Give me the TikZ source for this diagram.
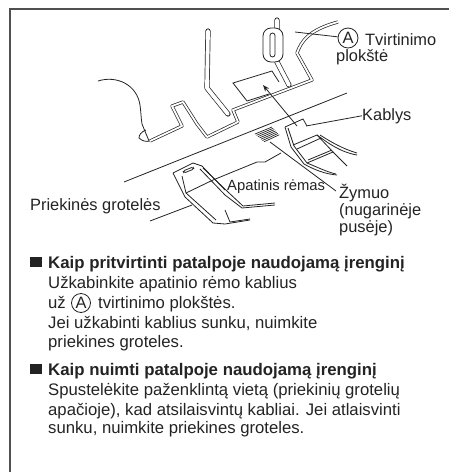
\documentclass[tikz,border=0pt]{standalone}
\usepackage{fontspec}
\setmainfont{Liberation Sans}
\usetikzlibrary{arrows.meta, positioning}
\definecolor{inkgrey}{RGB}{35, 35, 35}
\definecolor{framegrey}{RGB}{80, 80, 80}

\begin{document}
\begin{tikzpicture}[x=1pt, y=-1pt, >=Stealth, color=inkgrey,
    thin line/.style={draw, line width=0.8pt},
    frame rail/.style={draw, line width=0.7pt, double=white, double distance=1.8pt, line join=round},
    rod/.style={draw, line width=0.7pt, double=white, double distance=3.8pt, line join=round},
    label/.style={anchor=base west, inner sep=0pt, font=\fontsize{16.4}{18}\selectfont},
    body/.style={label, font=\fontsize{16.7}{18}\selectfont},
    head/.style={label, font=\fontsize{16.8}{18}\selectfont\bfseries},
    marker/.style={draw=none, fill=inkgrey, minimum width=12pt, minimum height=10pt, inner sep=0pt},
    circ/.style={circle, draw, line width=0.8pt, inner sep=0pt, minimum size=#1, font=\fontsize{16.4}{18}\selectfont}]
  \path[use as bounding box] (0,0) rectangle (449,472);

  % outer frame
  \draw[framegrey, line width=1.2pt] (449,9) -- (10,9) -- (10,472);

  % lower frame, left part
  \draw[thin line] (98,81) .. controls (117,75) and (137,85) .. (140,105)
     .. controls (141,112) and (141,118) .. (142,124) -- (149,141);
  \draw[thin line] (146,130) .. controls (141,132) and (139,135) .. (139,138)
     .. controls (142,141) and (146,142) .. (150,141);
  \path[frame rail] (150,141) -- (182,126) -- (172,106) -- (183,102) -- (197,124)
     -- (207,137) -- (238,122) -- (233,110) -- (312,80) -- (297,53)
     .. controls (301,42) and (308,30) .. (338,22);

  % mounting plate sheet
  \draw[thin line] (279,82) -- (272,71) -- (233,83) -- (247,101) -- (269,94);

  % rods
  \path[rod, line cap=round] (208,31) -- (207,88) -- (228,114);
  \path[rod, line cap=round] (277,20) -- (277,62) -- (289,85);
  \node[draw, fill=white, line width=0.8pt, rounded corners=8pt, minimum width=20pt, minimum height=34pt, inner sep=0pt] (plate) at (273,45) {};
  \node[draw, fill=white, line width=0.8pt, rounded corners=2.5pt, minimum width=5pt, minimum height=24pt, inner sep=0pt] (slot) at (272.5,45) {};

  % long lines
  \draw[thin line] (124,182) -- (347,93);
  \draw[thin line] (150,221) -- (192,205);
  \draw[thin line] (213,180) -- (257,162) -- (265,162) -- (281,153);

  % ridged marking
  \foreach \k in {0,...,6}
    \draw[line width=0.7pt] (255+\k*1.5,134+\k*1.3) -- (272+\k*1.2,127+\k*1.3);

  % right hook
  \draw[thin line, fill=white] (285,127) -- (303,119) -- (307,126);
  \draw[thin line] (285,127) -- (291,147) -- (304,164) .. controls (315,170) and (325,174) .. (337,175);
  \draw[thin line] (288,128) -- (294,146) -- (307,163) .. controls (317,167) and (327,172) .. (336,174);
  \draw[thin line] (293,145) -- (317,135) -- (333,152) -- (307,163);
  \draw[thin line] (297,149) -- (321,138);
  \draw[thin line] (308,160) -- (332,150);
  \draw[thin line] (317,135) .. controls (328,143) and (340,152) .. (357,155);
  \draw[thin line] (320,135) .. controls (331,142) and (343,149) .. (357,153);
  \draw[thin line] (333,152) -- (347,166);

  % left hook
  \draw[thin line] (173,173) -- (193,163) -- (202,166) -- (225,190);
  \draw[thin line] (173,173) -- (185,197) -- (213,223) -- (225,224) -- (250,220);
  \draw[thin line] (182,176) -- (186,193) -- (216,220);
  \draw[thin line] (186,193) -- (213,180);
  \draw[thin line] (200,169) -- (225,195) -- (242,208) -- (275,205);
  \draw[thin line] (203,168) -- (228,192) -- (243,206) -- (275,203);
  \draw[thin line] (225,210) -- (230,222) -- (250,219);
  \draw[thin line, rounded corners=1.5pt] (183,171) -- (193,167) -- (194,169) -- (184,173) -- cycle;

  % labels in the drawing
  \node[circ=20pt] (circA) at (348,38) {A};
  \node[label] (tvirt) at (365,45) {Tvirtinimo};
  \node[label] (plok) at (336,61) {plokštė};
  \node[label] (kab) at (362,120) {Kablys};
  \node[label] (zym) at (339,198) {Žymuo};
  \node[label] (nug) at (339,215) {(nugarinėje};
  \node[label] (pus) at (339,232) {pusėje)};
  \node[label, font=\fontsize{14.8}{16}\selectfont] (apat) at (227,190) {Apatinis rėmas};
  \node[label] (priek) at (30,210) {Priekinės grotelės};

  % leaders
  \coordinate (plateEnd) at (295,32);
  \coordinate (kabEnd) at (306,126);
  \coordinate (zymEnd) at (270,142);
  \coordinate (zymTip) at (336,191);
  \coordinate (arrStart) at (297,126);
  \coordinate (arrEnd) at (263,85);
  \draw[thin line] (plateEnd) -- (circA);
  \draw[thin line] (kabEnd) -- (kab.west);
  \draw[thin line] (zymEnd) -- (zymTip);
  \draw[->, thin line] (arrStart) -- (arrEnd);

  % first paragraph
  \node[marker] (m1) at (36,262) {};
  \node[head] (h1) at (48,268) {Kaip pritvirtinti patalpoje naudojamą įrenginį};
  \node[body] (a1) at (48,288) {Užkabinkite apatinio rėmo kablius};
  \node[body] (a2) at (48,308) {už};
  \node[circ=19pt] (circB) at (81,303) {A};
  \node[body] (a3) at (98,308) {tvirtinimo plokštės.};
  \node[body] (a4) at (48,328) {Jei užkabinti kablius sunku, nuimkite};
  \node[body] (a5) at (48,347) {priekines groteles.};

  % second paragraph
  \node[marker] (m2) at (36,369) {};
  \node[head] (h2) at (48,375) {Kaip nuimti patalpoje naudojamą įrenginį};
  \node[body] (b1) at (48,395) {Spustelėkite paženklintą vietą (priekinių grotelių};
  \node[body] (b2) at (48,415) {apačioje), kad atsilaisvintų kabliai. Jei atlaisvinti};
  \node[body] (b3) at (48,433) {sunku, nuimkite priekines groteles.};
\end{tikzpicture}
\end{document}
